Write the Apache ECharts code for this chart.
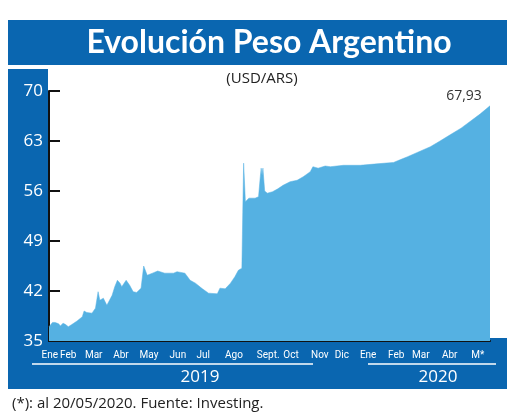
<!DOCTYPE html>
<html>
<head>
<meta charset="utf-8">
<script src="https://cdn.jsdelivr.net/npm/echarts@6/dist/echarts.min.js"></script>
<style>
  html, body { margin: 0; padding: 0; background: #fff; }
  #chart { width: 520px; height: 420px; }
</style>
</head>
<body>
<div id="chart"></div>
<script>
// dias desde 02/01/2019
const dias = [0, 4, 7, 11, 13, 16, 19, 22, 26, 32, 38, 40, 43, 45, 49, 53, 56, 58, 62, 66,
  72, 75, 78, 81, 83, 88, 92, 96, 100, 105, 108, 112, 118, 124, 132, 142, 146, 155, 161, 167,
  175, 182, 192, 195, 201, 207, 212, 216, 220, 221, 222, 224, 228, 235, 239, 241, 242, 243, 244, 246,
  249, 255, 261, 267, 275, 283, 290, 298, 301, 307, 315, 321, 336, 355, 374, 393, 401, 409, 422, 435,
  446, 458, 470, 481, 492, 503]
const usdArs = [37.0, 37.6, 37.6, 37.4, 37.1, 37.5, 37.3, 37.0, 37.3, 37.8, 38.4, 39.2, 39.0, 38.8, 38.9, 39.6, 41.9, 40.7, 41.0, 40.0,
  41.4, 42.6, 43.5, 43.1, 42.6, 43.5, 42.8, 41.9, 41.8, 42.4, 45.5, 44.2, 44.5, 44.8, 44.5, 44.5, 44.7, 44.5, 43.5, 43.1,
  42.3, 41.7, 41.6, 42.4, 42.3, 43.1, 44.0, 44.9, 45.2, 53.0, 59.9, 54.5, 55.0, 55.0, 55.2, 58.0, 59.2, 58.2, 59.2, 56.0,
  55.7, 55.9, 56.3, 56.8, 57.3, 57.5, 58.0, 58.7, 59.4, 59.2, 59.5, 59.4, 59.6, 59.6, 59.8, 60.0, 60.4, 60.8, 61.5, 62.2,
  63.0, 63.9, 64.8, 65.8, 66.8, 67.93]

const meses = ['Ene', 'Feb', 'Mar', 'Abr', 'May', 'Jun', 'Jul', 'Ago', 'Sept.', 'Oct', 'Nov', 'Dic',
  'Ene', 'Feb', 'Mar', 'Abr', 'M*']
const mesesDia = [1, 22, 51, 82, 114, 147, 176, 211, 250, 276, 309, 334, 364, 396, 424, 457, 489]
const yTicks = [35, 42, 49, 56, 63, 70]

const azul = '#0a66b0'
const celeste = '#55b1e2'

const chart = echarts.init(document.getElementById('chart'))
const data = dias.map(function (d, i) {
  return [d, usdArs[i]]
})

const option = {
  animation: false,
  grid: {
    left: 49,
    top: 91,
    width: 441,
    height: 250
  },
  xAxis: {
    type: 'value',
    min: 0,
    max: 503,
    axisLine: {
      show: true,
      lineStyle: { color: '#111', width: 2 }
    },
    axisTick: { show: false },
    splitLine: { show: false },
    axisLabel: {
      customValues: mesesDia,
      showMinLabel: true,
      showMaxLabel: true,
      hideOverlap: false,
      margin: 9,
      color: '#fff',
      fontSize: 10,
      fontFamily: 'Roboto, sans-serif',
      formatter: function (v) {
        const i = mesesDia.indexOf(v)
        return i >= 0 ? meses[i] : ''
      }
    }
  },
  yAxis: {
    type: 'value',
    min: 35,
    max: 70,
    interval: 7,
    axisLine: {
      show: true,
      lineStyle: { color: '#111', width: 2 }
    },
    axisTick: {
      show: true,
      inside: true,
      length: 11,
      lineStyle: { color: '#111', width: 2 }
    },
    splitLine: { show: false },
    axisLabel: {
      margin: 6,
      color: '#fff',
      fontSize: 17,
      fontFamily: '"Open Sans", sans-serif',
      formatter: function (v) {
        return yTicks.indexOf(v) >= 0 ? String(v) : ''
      }
    }
  },
  graphic: [
    // cabecera
    { type: 'rect', z: -10, shape: { x: 8, y: 20, width: 499, height: 45 }, style: { fill: azul } },
    { type: 'text', z: 10, x: 269, y: 43,
      style: { text: 'Evolución Peso Argentino', fill: '#fff', font: 'bold 32px Lato, sans-serif', align: 'center', verticalAlign: 'middle' } },
    // franja izquierda y banda inferior
    { type: 'rect', z: -10, shape: { x: 8, y: 69, width: 40, height: 320 }, style: { fill: azul } },
    { type: 'rect', z: -10, shape: { x: 8, y: 338, width: 499, height: 51 }, style: { fill: azul } },
    { type: 'line', z: 10, shape: { x1: 32, y1: 364, x2: 313, y2: 364 }, style: { stroke: '#fff', lineWidth: 1.5 } },
    { type: 'line', z: 10, shape: { x1: 368, y1: 364, x2: 496, y2: 364 }, style: { stroke: '#fff', lineWidth: 1.5 } },
    { type: 'text', z: 10, x: 200, y: 377,
      style: { text: '2019', fill: '#fff', font: '17px "Open Sans", sans-serif', align: 'center', verticalAlign: 'middle' } },
    { type: 'text', z: 10, x: 438, y: 377,
      style: { text: '2020', fill: '#fff', font: '17px "Open Sans", sans-serif', align: 'center', verticalAlign: 'middle' } },
    // textos
    { type: 'text', z: 10, x: 262, y: 79,
      style: { text: '(USD/ARS)', fill: '#222', font: '15px "Open Sans", sans-serif', align: 'center', verticalAlign: 'middle' } },
    { type: 'text', z: 10, x: 464, y: 96,
      style: { text: '67,93', fill: '#333', font: '14px "Open Sans", sans-serif', align: 'center', verticalAlign: 'middle' } },
    { type: 'text', z: 10, x: 12, y: 404,
      style: { text: '(*): al 20/05/2020. Fuente: Investing.', fill: '#222', font: '15px "Open Sans", sans-serif', align: 'left', verticalAlign: 'middle' } }
  ],
  series: [{
    type: 'line',
    data: data,
    showSymbol: false,
    symbol: 'none',
    lineStyle: { width: 0.5, color: celeste },
    areaStyle: { color: celeste, opacity: 1 }
  }]
}
chart.setOption(option)
</script>
</body>
</html>
